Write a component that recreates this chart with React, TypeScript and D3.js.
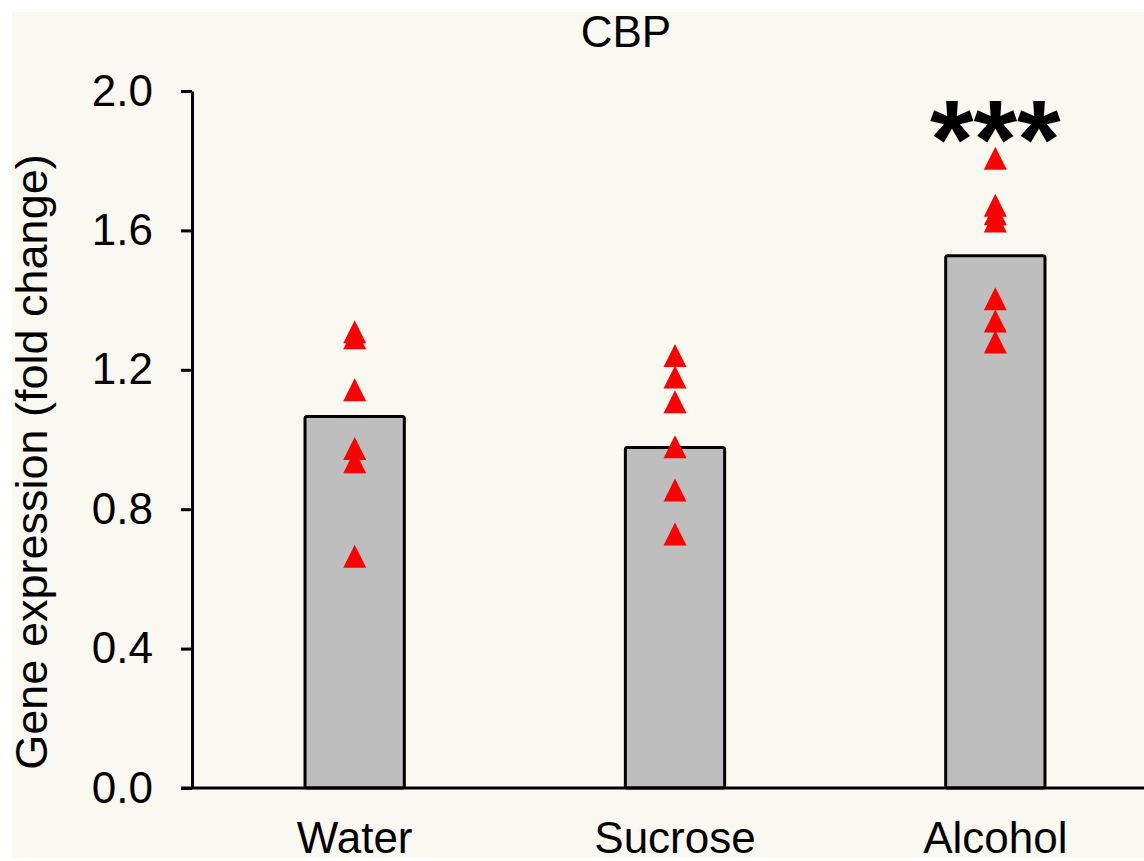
import React, { useRef, useEffect } from 'react';
import * as d3 from 'd3';

const categories = ['Water', 'Sucrose', 'Alcohol'];
const means = [1.066, 0.977, 1.527];
const waterPoints = [1.309, 1.292, 1.143, 0.974, 0.936, 0.665];
const sucrosePoints = [1.241, 1.179, 1.108, 0.979, 0.855, 0.729];
const alcoholPoints = [1.807, 1.672, 1.648, 1.627, 1.404, 1.34, 1.28];
const yTicks = [0, 0.4, 0.8, 1.2, 1.6, 2.0];
const significance = ['', '', '***'];

const width = 1144;
const height = 861;
const font = 'Arial, "Liberation Sans", sans-serif';

// triangle centred on its bounding box
const triangle = {
    draw(ctx: any, size: number) {
        const h = Math.sqrt(size);
        ctx.moveTo(0, -h / 2);
        ctx.lineTo(h / 2, h / 2);
        ctx.lineTo(-h / 2, h / 2);
        ctx.closePath();
    },
};

const App = () => {
    const svgRef = useRef<SVGSVGElement>(null);

    useEffect(() => {
        const svg = d3.select(svgRef.current);
        svg.selectAll('*').remove();

        const x = d3
            .scaleBand()
            .domain(categories)
            .range([194.5, 1155.5])
            .paddingInner(0.69)
            .paddingOuter(0.345);

        const y = d3.scaleLinear().domain([0, 2]).range([788, 91]);

        const axisX = 192;

        svg
            .append('rect')
            .attr('x', 12)
            .attr('y', 12)
            .attr('width', width - 12)
            .attr('height', 845)
            .attr('fill', '#faf9f1');

        const points = [waterPoints, sucrosePoints, alcoholPoints];

        // bars
        svg
            .append('g')
            .selectAll('rect')
            .data(categories)
            .join('rect')
            .attr('x', d => x(d))
            .attr('y', (d, i) => y(means[i]))
            .attr('width', x.bandwidth())
            .attr('height', (d, i) => y(0) - y(means[i]))
            .attr('rx', 2)
            .attr('fill', '#bebebe')
            .attr('stroke', '#000')
            .attr('stroke-width', 3);

        // individual points
        const sym = d3.symbol().type(triangle as any).size(23 * 23);
        categories.forEach((c, i) => {
            svg
                .append('g')
                .selectAll('path')
                .data(points[i])
                .join('path')
                .attr('transform', d => `translate(${x(c) + x.bandwidth() / 2},${y(d)})`)
                .attr('d', sym())
                .attr('fill', '#ff0000');
        });

        // y axis
        const yAxis = d3
            .axisLeft(y)
            .tickValues(yTicks)
            .tickFormat(d3.format('.1f'))
            .tickSize(11)
            .tickSizeOuter(0)
            .tickPadding(28);

        const gy = svg
            .append('g')
            .attr('transform', `translate(${axisX},0)`)
            .call(yAxis);
        gy.select('.domain').attr('stroke-width', 3);
        gy.selectAll('.tick line').attr('stroke-width', 3);
        gy.selectAll('.tick text')
            .attr('font-size', 44)
            .attr('font-family', font)
            .attr('fill', '#000');

        // x axis
        svg
            .append('line')
            .attr('x1', 181)
            .attr('x2', width)
            .attr('y1', y(0))
            .attr('y2', y(0))
            .attr('stroke', '#000')
            .attr('stroke-width', 3);

        const xAxis = d3.axisBottom(x).tickSize(0).tickPadding(34);
        const gx = svg
            .append('g')
            .attr('transform', `translate(0,${y(0)})`)
            .call(xAxis);
        gx.select('.domain').remove();
        gx.selectAll('.tick text')
            .attr('font-size', 44)
            .attr('font-family', font)
            .attr('fill', '#000');

        // significance
        svg
            .append('g')
            .selectAll('text')
            .data(significance)
            .join('text')
            .attr('x', (d, i) => x(categories[i]) + x.bandwidth() / 2)
            .attr('y', 178)
            .attr('text-anchor', 'middle')
            .attr('font-size', 112)
            .attr('font-weight', 'bold')
            .attr('font-family', font)
            .text(d => d);

        // title
        svg
            .append('text')
            .attr('x', 626)
            .attr('y', 46.7)
            .attr('text-anchor', 'middle')
            .attr('font-size', 44)
            .attr('font-family', font)
            .text('CBP');

        // y label
        svg
            .append('text')
            .attr('transform', `translate(47,462) rotate(-90)`)
            .attr('text-anchor', 'middle')
            .attr('font-size', 45)
            .attr('font-family', font)
            .text('Gene expression (fold change)');
    }, []);

    return (
        <svg
            ref={svgRef}
            width={width}
            height={height}
            style={{ position: 'absolute', left: 0, top: 0, background: '#fff' }}
        />
    );
};

export default App;
